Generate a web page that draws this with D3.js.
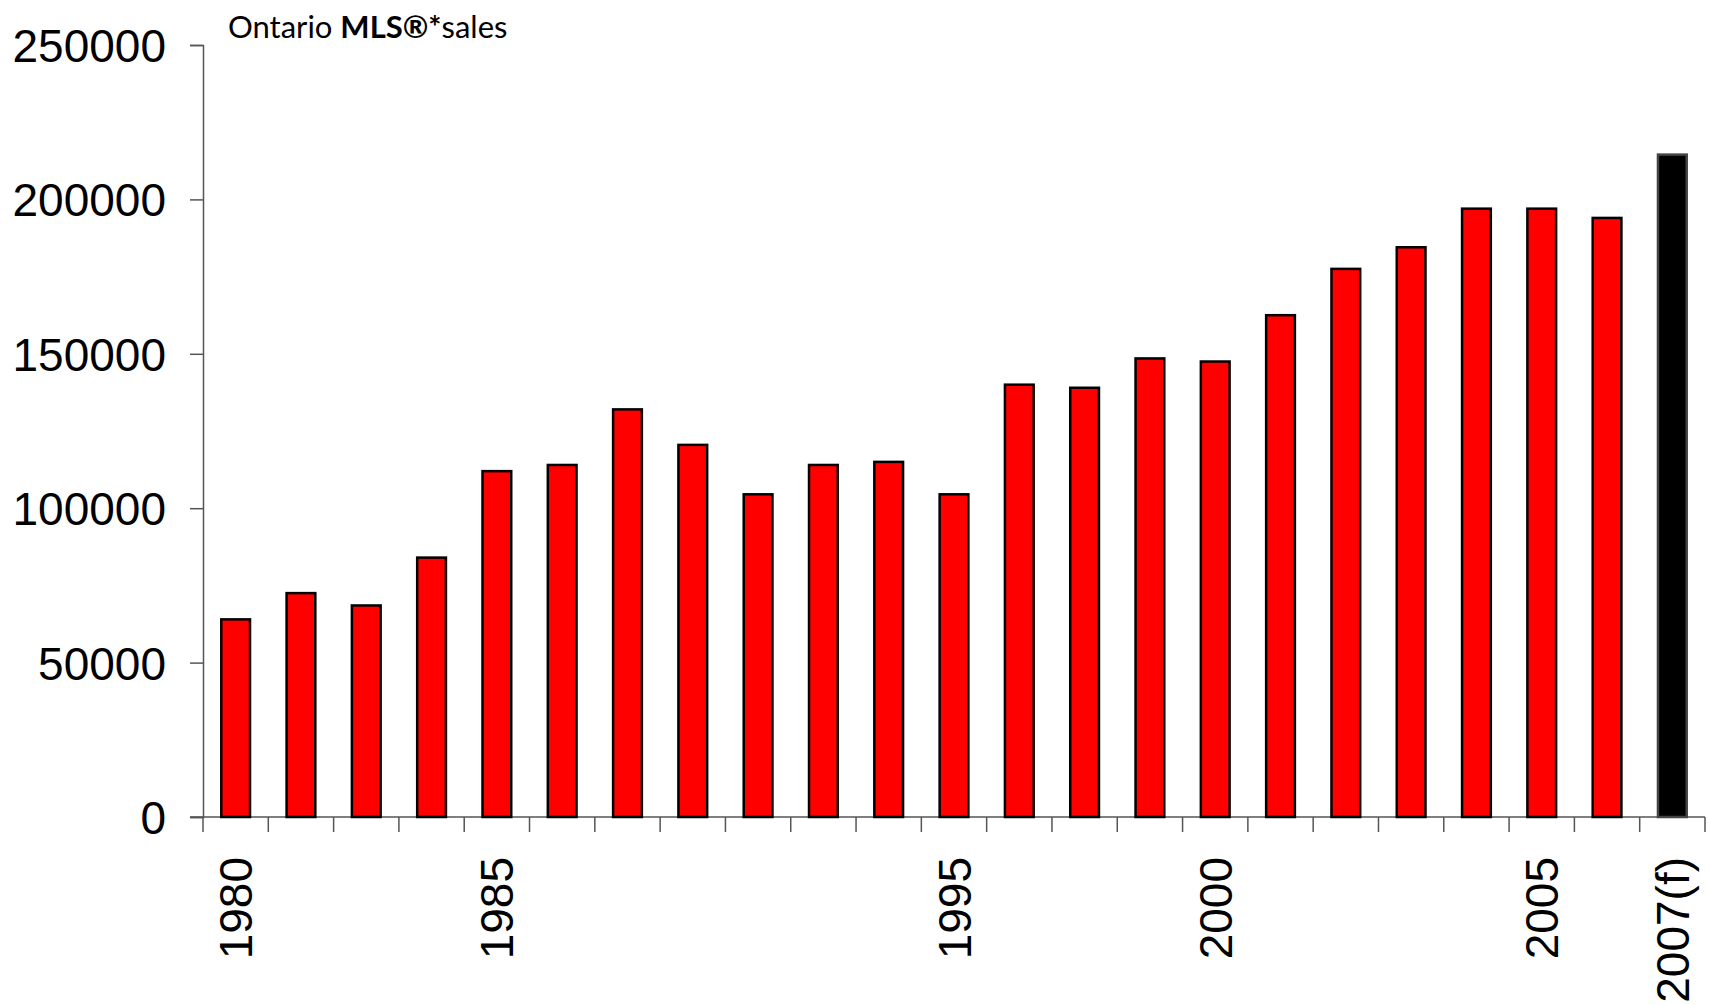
<!DOCTYPE html>
<html>
<head>
<meta charset="utf-8">
<script src="https://cdn.jsdelivr.net/npm/d3@7"></script>
<style>
  body { margin: 0; background: #fff; }
  svg { display: block; }
</style>
</head>
<body>
<svg class="chart" width="1710" height="1005"></svg>
<script>
const svg = d3.select('.chart')
const width = +svg.attr('width')
const height = +svg.attr('height')
const margin = {top:45, bottom:188, left:203, right:5}
const innerWidth = width - margin.left - margin.right
const innerHeight = height - margin.top - margin.bottom

// 23 bars, only some of them carry a label
const labels = ['1980','','','','1985','','','','','','','1995','','','','2000','','','','','2005','','2007(f)']
const sales = [64000,72500,68500,84000,112000,114000,132000,120500,104500,114000,115000,104500,
  140000,139000,148500,147500,162500,177500,184500,197000,197000,194000,214500]
const yTicks = [0,50000,100000,150000,200000,250000]

const data = sales.map((v,i)=>({i:i, label:labels[i], value:v, forecast:i===sales.length-1}))

const xScale = d3.scaleBand()
  .domain(data.map(d=>d.i))
  .range([0, innerWidth])
  .paddingInner(0.56)
  .paddingOuter(0.28)

const yScale = d3.scaleLinear()
  .domain([0,250000])
  .range([innerHeight,0])

const g = svg.append('g')
  .attr('transform',`translate(${margin.left},${margin.top})`)

// y axis
const yAxis = g.append('g')
  .call(d3.axisLeft(yScale).tickValues(yTicks).tickFormat(d3.format('d')).tickSize(13).tickPadding(24))
yAxis.selectAll('.domain, .tick line').attr('stroke','#555').attr('stroke-width',1.5)
yAxis.selectAll('text')
  .attr('font-family','Liberation Sans, Arial, sans-serif')
  .attr('font-size',46)
  .attr('fill','#000')
  .attr('dy','0.36em')

// x axis: ticks sit on the band edges
const step = xScale.step()
const edges = d3.range(data.length+1).map(k=>k*step)
const xAxis = g.append('g').attr('transform',`translate(0,${innerHeight})`)
xAxis.append('line')
  .attr('x1',-13).attr('x2',innerWidth)
  .attr('stroke','#555').attr('stroke-width',1.5)
xAxis.selectAll('.edge')
  .data(edges)
  .enter()
  .append('line')
  .attr('class','edge')
  .attr('x1',d=>d).attr('x2',d=>d)
  .attr('y1',0).attr('y2',15)
  .attr('stroke','#555').attr('stroke-width',1.5)

xAxis.selectAll('.xlabel')
  .data(data.filter(d=>d.label))
  .enter()
  .append('text')
  .attr('class','xlabel')
  .attr('transform',d=>`translate(${xScale(d.i)+xScale.bandwidth()/2},40) rotate(-90)`)
  .attr('text-anchor','end')
  .attr('dy','0.36em')
  .attr('font-family','Liberation Sans, Arial, sans-serif')
  .attr('font-size',46)
  .attr('fill','#000')
  .text(d=>d.label)

// bars
g.selectAll('rect.bar')
  .data(data)
  .enter()
  .append('rect')
  .attr('class','bar')
  .attr('x',d=>xScale(d.i))
  .attr('y',d=>yScale(d.value))
  .attr('width',xScale.bandwidth())
  .attr('height',d=>innerHeight-yScale(d.value))
  .attr('fill',d=>d.forecast ? '#000' : '#ff0000')
  .attr('stroke',d=>d.forecast ? '#444' : '#000')
  .attr('stroke-width',2.5)

// title
const title = svg.append('text')
  .attr('x',228)
  .attr('y',38)
  .attr('font-family','Lato, sans-serif')
  .attr('font-size',31)
  .attr('fill','#000')
title.append('tspan').text('Ontario ')
title.append('tspan').attr('font-weight','bold').text('MLS®*')
title.append('tspan').text('sales')
</script>
</body>
</html>
